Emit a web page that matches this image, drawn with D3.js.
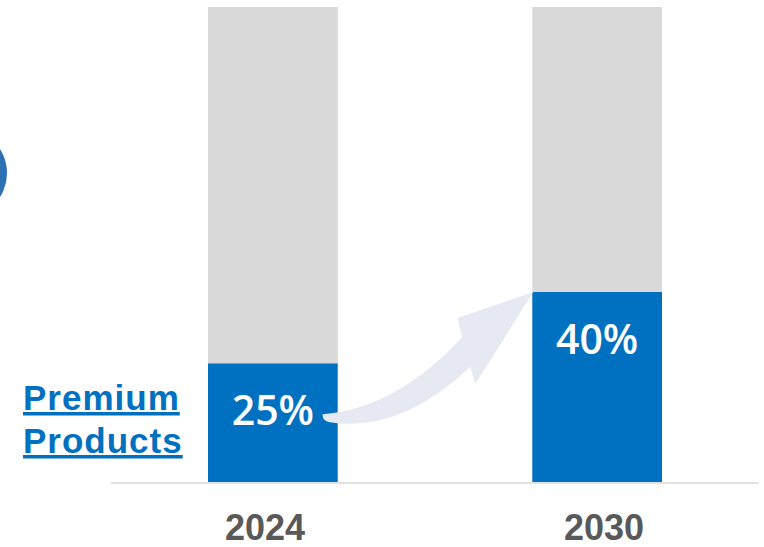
<!DOCTYPE html>
<html>
<head>
<meta charset="utf-8">
<script src="https://cdn.jsdelivr.net/npm/d3@7"></script>
<style>
  html, body { margin: 0; padding: 0; background: #fff; }
  svg { display: block; }
</style>
</head>
<body>
<svg id="chart" width="764" height="547"></svg>
<script>
// Share of premium products in total sales, by year
const years = ["2024", "2030"];
const premiumShare = [25, 40];
const otherShare = [75, 60];
const shareLabels = ["25%", "40%"];
const seriesName = ["Premium", "Products"];

const W = 764, H = 547;
const svg = d3.select("#chart");

const x = d3.scaleBand().domain(years).range([208, 662]).paddingInner(0.6).paddingOuter(0);
const y = d3.scaleLinear().domain([0, 100]).range([482, 7]);
const bw = x.bandwidth();
// category labels sit on their own axis positions below the baseline
const xLabel = d3.scalePoint().domain(years).range([265, 604]);

const rows = years.map((yr, i) => ({ year: yr, premium: premiumShare[i], other: otherShare[i], label: shareLabels[i] }));
const stack = d3.stack().keys(["premium", "other"])(rows);
const fills = { premium: "#0070c0", other: "#d9d9d9" };

// decorative circle peeking in from the left edge
svg.append("circle").attr("cx", -38).attr("cy", 173).attr("r", 45).attr("fill", "#2e70b4");

// stacked bars
svg.append("g").selectAll("g").data(stack).join("g")
  .attr("fill", d => fills[d.key])
  .selectAll("rect").data(d => d).join("rect")
  .attr("x", d => x(d.data.year))
  .attr("width", bw)
  .attr("y", d => y(d[1]))
  .attr("height", d => y(d[0]) - y(d[1]));

// baseline
svg.append("line")
  .attr("x1", 111).attr("x2", 759)
  .attr("y1", y(0) + 1).attr("y2", y(0) + 1)
  .attr("stroke", "#d9d9d9").attr("stroke-width", 1.6);

// growth arrow from the 2024 bar to the top of the 2030 premium segment
const tip = [x("2030") + 1, y(premiumShare[1])];
const tail = [x("2024") + bw - 15, y(premiumShare[0]) + 51];
const rel = (p, dx, dy) => [p[0] + dx, p[1] + dy];
const upperBarb = rel(tip, -76, 26);
const upperJoin = rel(tip, -71, 45);
const lowerBarb = rel(tip, -58, 92);
const lowerJoin = rel(tip, -63, 75);
const c1 = rel(tail, 74, -6);
const c2 = rel(tail, 77, 19);
const tailLow = rel(tail, 7, 8);
const arrow = d3.path();
arrow.moveTo(...tail);
arrow.quadraticCurveTo(...c1, ...upperJoin);
arrow.lineTo(...upperBarb);
arrow.lineTo(...tip);
arrow.lineTo(...lowerBarb);
arrow.lineTo(...lowerJoin);
arrow.quadraticCurveTo(...c2, ...tailLow);
arrow.quadraticCurveTo(tail[0] - 1, tail[1] + 6, ...tail);
arrow.closePath();
svg.append("path").attr("d", arrow.toString()).attr("fill", "#e6e9f2");

// value labels inside the premium segment
svg.append("g").selectAll("text").data(rows).join("text")
  .attr("x", d => x(d.year) + bw / 2)
  .attr("y", d => y(d.premium) + 62)
  .attr("text-anchor", "middle")
  .attr("fill", "#ffffff")
  .style("font-family", "'Open Sans', 'Liberation Sans', Arial, sans-serif")
  .style("font-weight", 600)
  .style("font-size", "41px")
  .text(d => d.label);

// year labels
svg.append("g").selectAll("text").data(years).join("text")
  .attr("x", d => xLabel(d))
  .attr("y", 540)
  .attr("text-anchor", "middle")
  .attr("fill", "#595959")
  .style("font-family", "'Liberation Sans', Arial, sans-serif")
  .style("font-weight", 700)
  .style("font-size", "36px")
  .text(d => d);

// series name
svg.append("g").selectAll("text").data(seriesName).join("text")
  .attr("x", 23)
  .attr("y", (d, i) => 410 + i * 43)
  .attr("fill", "#0070c0")
  .style("font-family", "'Liberation Sans', Arial, sans-serif")
  .style("font-weight", 700)
  .style("font-size", "35px")
  .style("letter-spacing", "1px")
  .style("text-decoration", "underline")
  .text(d => d);
</script>
</body>
</html>
